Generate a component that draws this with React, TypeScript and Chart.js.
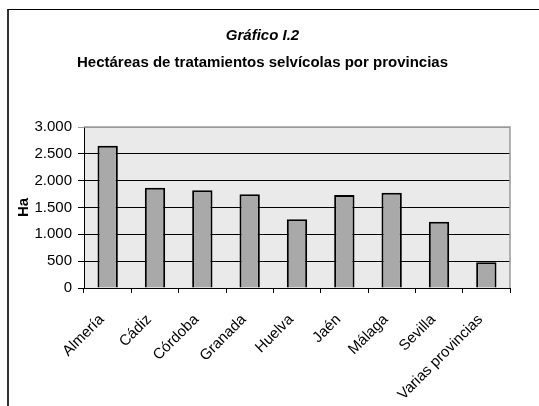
import React, { useEffect, useRef } from "react";
import { Chart, registerables } from "chart.js";

Chart.register(...registerables);

const titleText = "Gráfico I.2";
const subtitleText = "Hectáreas de tratamientos selvícolas por provincias";
const yAxisTitle = "Ha";
const provinces = ["Almería", "Cádiz", "Córdoba", "Granada", "Huelva", "Jaén", "Málaga", "Sevilla", "Varias provincias"];
const hectares = [2650, 1870, 1820, 1745, 1280, 1735, 1775, 1235, 480];
const yMin = 0;
const yMax = 3000;
const yStep = 500;

const FONT = "Arial, 'Liberation Sans', sans-serif";

function fmt(v: number): string {
  const s = Math.round(v).toString();
  return s.replace(/\B(?=(\d{3})+(?!\d))/g, ".");
}

const plotBg = {
  id: "plotBg",
  beforeDraw(chart: any) {
    const { ctx, chartArea } = chart;
    if (!chartArea) return;
    ctx.save();
    ctx.fillStyle = "#eaeaea";
    ctx.fillRect(chartArea.left, chartArea.top, chartArea.right - chartArea.left, chartArea.bottom - chartArea.top);
    ctx.restore();
  },
  beforeDatasetsDraw(chart: any) {
    const { ctx, chartArea } = chart;
    ctx.save();
    ctx.strokeStyle = "#9a9a9a";
    ctx.lineWidth = 1.5;
    ctx.beginPath();
    ctx.moveTo(chartArea.left, chartArea.top);
    ctx.lineTo(chartArea.right, chartArea.top);
    ctx.lineTo(chartArea.right, chartArea.bottom);
    ctx.stroke();
    ctx.restore();
  },
};

export default function App() {
  const ref = useRef<HTMLCanvasElement | null>(null);
  useEffect(() => {
    if (!ref.current) return;
    const chart = new Chart(ref.current, {
      type: "bar",
      data: {
        labels: provinces,
        datasets: [
          {
            data: hectares,
            backgroundColor: "#a9a9a9",
            borderColor: "#000000",
            borderWidth: 2,
            barPercentage: 0.43,
            categoryPercentage: 1,
          },
        ],
      },
      options: {
        animation: false,
        responsive: false,
        layout: { padding: { left: 15, right: 29, top: 20, bottom: 0 } },
        plugins: {
          legend: { display: false },
          tooltip: { enabled: false },
          title: {
            display: true,
            text: titleText,
            color: "#000",
            font: { family: FONT, size: 15, weight: "bold", style: "italic", lineHeight: 1.2 },
            padding: { top: 7, bottom: 5 },
          },
          subtitle: {
            display: true,
            text: subtitleText,
            color: "#000",
            font: { family: FONT, size: 15, weight: "bold", lineHeight: 1.2 },
            padding: { top: 4, bottom: 55 },
          },
        },
        scales: {
          x: {
            offset: true,
            grid: {
              offset: true,
              drawOnChartArea: false,
              drawTicks: true,
              tickLength: 5,
              color: "#000",
            },
            border: { color: "#000", width: 1 },
            ticks: {
              color: "#000",
              font: { family: FONT, size: 15 },
              minRotation: 45,
              maxRotation: 45,
              padding: 12,
              autoSkip: false,
              callback: function (this: any, v: any) {
                return this.getLabelForValue(Number(v)) + "  ";
              },
            },
            afterFit(scale: any) {
              scale.height = 118;
            },
          },
          y: {
            min: yMin,
            max: yMax,
            title: {
              display: true,
              text: yAxisTitle,
              color: "#000",
              font: { family: FONT, size: 15, weight: "bold" },
              padding: 0,
            },
            grid: {
              color: (c: any) => (c.tick && c.tick.value === yMax ? "#9a9a9a" : "#000"),
              lineWidth: 1,
              tickLength: 6,
              drawTicks: true,
            },
            border: { color: "#000", width: 1 },
            ticks: {
              stepSize: yStep,
              color: "#000",
              font: { family: FONT, size: 15 },
              padding: 6,
              callback: (v: any) => fmt(Number(v)),
            },
            afterFit(scale: any) {
              scale.width = 69;
            },
          },
        },
      },
      plugins: [plotBg],
    });
    return () => chart.destroy();
  }, []);

  return (
    <div style={{ position: "absolute", left: 0, top: 0, width: 539, height: 406, overflow: "hidden", background: "#fff" }}>
      <canvas ref={ref} width={539} height={406} style={{ position: "absolute", left: 0, top: 0 }} />
      <div
        style={{
          position: "absolute",
          left: 7,
          top: 9,
          width: 700,
          height: 700,
          borderLeft: "2px solid #333",
          borderTop: "1.5px solid #000",
          pointerEvents: "none",
        }}
      />
    </div>
  );
}
